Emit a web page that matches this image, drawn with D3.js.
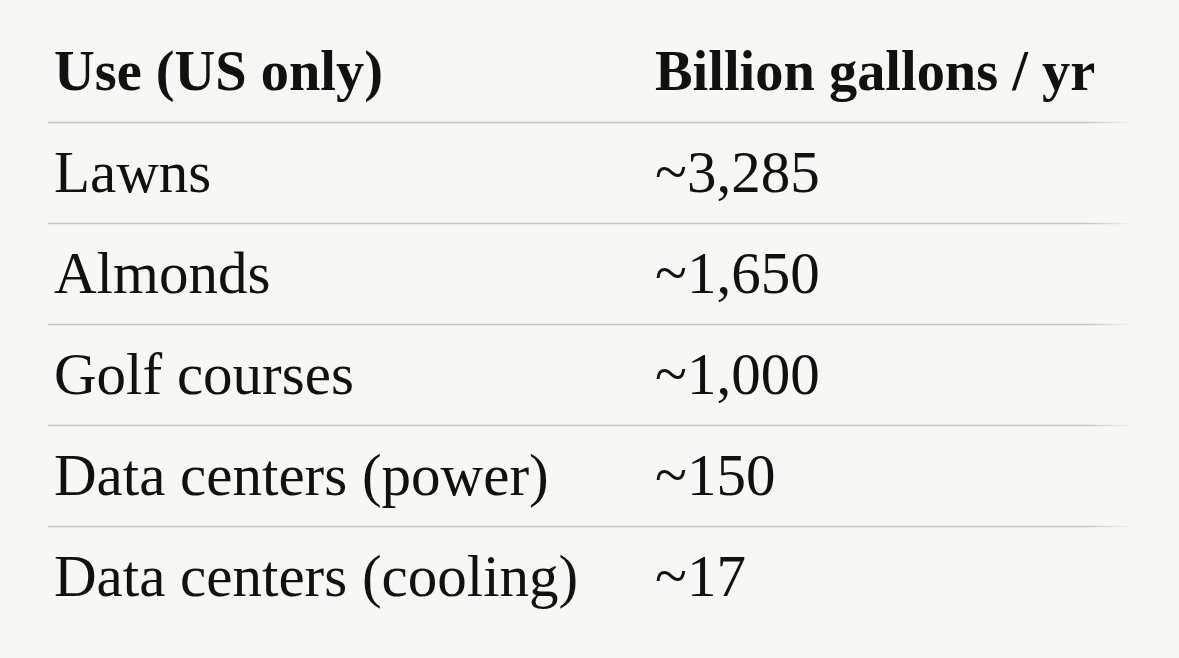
<!DOCTYPE html>
<html><head><meta charset="utf-8">
<script src="https://cdn.jsdelivr.net/npm/d3@7"></script>
<style>
html,body{margin:0;padding:0;background:#f7f7f5;}
svg{display:block;}
</style></head>
<body>
<script>
const headers = ["Use (US only)", "Billion gallons / yr"];
const uses = ["Lawns", "Almonds", "Golf courses", "Data centers (power)", "Data centers (cooling)"];
const values = ["~3,285", "~1,650", "~1,000", "~150", "~17"];

const W = 1179, H = 658;
const svg = d3.select("body").append("svg").attr("width", W).attr("height", H);
svg.append("rect").attr("width", W).attr("height", H).attr("fill", "#f7f7f5");

const defs = svg.append("defs");
const grad = defs.append("linearGradient").attr("id", "fade").attr("gradientUnits", "userSpaceOnUse")
  .attr("x1", 48).attr("x2", 1134).attr("y1", 0).attr("y2", 0);
grad.append("stop").attr("offset", "0").attr("stop-color", "#c4c4c2");
grad.append("stop").attr("offset", "0.955").attr("stop-color", "#c4c4c2");
grad.append("stop").attr("offset", "1").attr("stop-color", "#f7f7f5");

const colX = [54, 655];
const y = d3.scaleBand().domain(d3.range(uses.length)).range([122, 627]);
const font = "'Liberation Serif', 'Times New Roman', serif";

// header
svg.selectAll("text.h").data(headers).join("text").attr("class", "h")
  .attr("x", (d, i) => colX[i]).attr("y", 90)
  .attr("font-family", font).attr("font-weight", "bold").attr("font-size", 56.4)
  .attr("fill", "#111").text(d => d);

// separators
svg.selectAll("line.sep").data(d3.range(uses.length)).join("line").attr("class", "sep")
  .attr("x1", 48).attr("x2", 1134)
  .attr("y1", i => y(i) + 0.5).attr("y2", i => y(i) + 0.5)
  .attr("stroke", "url(#fade)").attr("stroke-width", 1.3);

const rows = svg.selectAll("g.row").data(uses.map((u, i) => [u, values[i]])).join("g").attr("class", "row");
rows.each(function (d, i) {
  const g = d3.select(this);
  d.forEach((t, j) => {
    g.append("text").attr("x", colX[j]).attr("y", y(i) + 70)
      .attr("font-family", font).attr("font-size", 59).attr("fill", "#111").text(t);
  });
});
</script>
</body></html>
